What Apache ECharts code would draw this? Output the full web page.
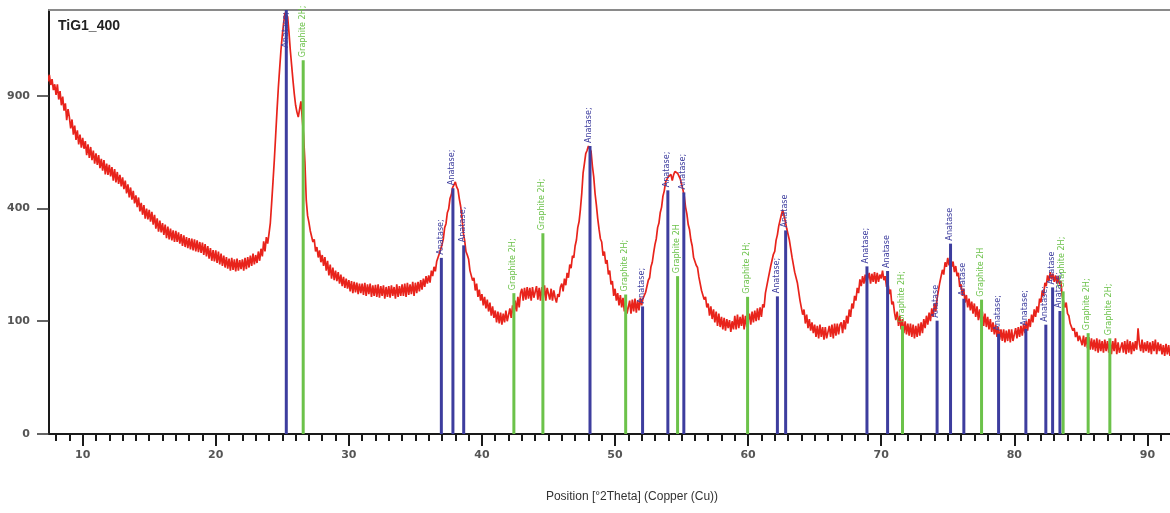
<!DOCTYPE html>
<html lang="en">
<head>
<meta charset="utf-8">
<title>TiG1_400</title>
<script src="https://cdn.jsdelivr.net/npm/echarts@6/dist/echarts.min.js"></script>
<style>
  html, body { margin: 0; padding: 0; background: #fff; }
  #chart { width: 1170px; height: 513px; }
</style>
</head>
<body>
<div id="chart"></div>
<script>
// scan: counts every 0.1 deg starting at 7.0 deg 2theta
var scanStart = 7.0;
var scanStep = 0.1;
var counts = [
  1030, 1060, 990, 1025, 978, 1015, 958, 990, 930, 962,
  905, 962, 880, 925, 850, 895, 822, 860, 775, 830,
  790, 735, 778, 705, 748, 680, 725, 660, 705, 645,
  690, 640, 675, 612, 660, 600, 648, 590, 632, 575,
  620, 570, 612, 556, 595, 545, 590, 530, 575, 528,
  570, 522, 560, 505, 552, 498, 540, 492, 528, 482,
  518, 472, 505, 455, 490, 440, 478, 432, 465, 418,
  448, 405, 440, 390, 420, 378, 412, 365, 400, 362,
  395, 355, 388, 345, 378, 332, 366, 322, 358, 320,
  350, 312, 345, 302, 338, 298, 332, 295, 326, 290,
  325, 290, 320, 285, 314, 278, 310, 275, 305, 272,
  302, 268, 300, 265, 298, 262, 295, 260, 290, 258,
  288, 252, 284, 248, 278, 242, 272, 236, 266, 234,
  265, 230, 262, 226, 256, 222, 250, 218, 246, 215,
  242, 210, 244, 212, 240, 208, 242, 210, 238, 214,
  240, 210, 244, 214, 246, 218, 250, 222, 256, 226,
  252, 230, 262, 236, 270, 248, 292, 262, 305, 285,
  315, 350, 420, 500, 590, 700, 820, 940, 1050, 1160,
  1250, 1330, 1395, 1400, 1370, 1270, 1160, 1070, 985, 910,
  850, 815, 790, 830, 870, 860, 700, 580, 430, 375,
  352, 325, 322, 290, 298, 262, 275, 245, 265, 232,
  252, 222, 246, 210, 236, 198, 226, 190, 218, 186,
  210, 184, 206, 178, 200, 172, 194, 168, 190, 166,
  186, 160, 184, 156, 182, 158, 180, 154, 178, 156,
  178, 152, 180, 150, 176, 154, 178, 148, 174, 150,
  175, 148, 176, 146, 172, 150, 174, 144, 170, 148,
  172, 146, 174, 150, 170, 144, 176, 148, 172, 150,
  176, 150, 178, 148, 180, 152, 176, 154, 182, 150,
  180, 156, 182, 160, 186, 164, 190, 170, 196, 178,
  198, 180, 210, 196, 220, 208, 234, 230, 256, 260,
  282, 300, 335, 348, 385, 398, 436, 450, 478, 488,
  500, 480, 470, 435, 408, 370, 318, 295, 262, 252,
  240, 210, 215, 185, 192, 162, 178, 148, 164, 140,
  154, 130, 148, 124, 142, 118, 136, 110, 128, 106,
  120, 98, 118, 96, 116, 94, 114, 98, 120, 100,
  102, 124, 106, 130, 112, 140, 118, 148, 126, 156,
  166, 140, 168, 142, 170, 144, 168, 140, 170, 146,
  146, 172, 142, 168, 140, 170, 144, 174, 140, 168,
  168, 142, 166, 140, 162, 146, 136, 154, 148, 170,
  178, 160, 190, 174, 204, 192, 226, 216, 250, 244,
  278, 296, 335, 355, 398, 455, 535, 575, 618, 632,
  652, 660, 628, 565, 520, 455, 412, 365, 330, 300,
  290, 250, 262, 228, 238, 200, 210, 176, 184, 150,
  166, 140, 156, 130, 152, 126, 146, 118, 140, 114,
  116, 140, 114, 142, 118, 144, 116, 140, 120, 146,
  130, 144, 146, 158, 160, 186, 192, 220, 232, 258,
  282, 300, 335, 350, 386, 405, 445, 465, 500, 504,
  520, 512, 530, 505, 528, 542, 548, 535, 530, 512,
  505, 470, 445, 405, 380, 345, 328, 296, 278, 246,
  242, 224, 218, 194, 190, 162, 164, 142, 148, 126,
  134, 110, 128, 104, 122, 98, 118, 92, 114, 90,
  108, 86, 106, 84, 104, 88, 102, 82, 100, 86,
  110, 86, 112, 88, 108, 92, 112, 86, 110, 90,
  92, 114, 94, 118, 98, 120, 100, 124, 102, 126,
  108, 132, 126, 156, 154, 188, 186, 222, 222, 254,
  262, 295, 312, 340, 345, 378, 395, 388, 355, 332,
  326, 296, 290, 246, 242, 206, 210, 180, 180, 140,
  140, 112, 122, 96, 112, 88, 104, 84, 98, 80,
  94, 74, 92, 72, 94, 74, 90, 70, 90, 72,
  72, 92, 74, 94, 72, 96, 76, 96, 78, 94,
  98, 80, 102, 86, 110, 96, 122, 108, 134, 124,
  150, 140, 168, 156, 188, 172, 196, 178, 200, 180,
  180, 204, 178, 202, 182, 206, 178, 204, 182, 200,
  190, 210, 186, 196, 170, 182, 154, 164, 132, 138,
  116, 102, 118, 92, 110, 86, 104, 80, 100, 78,
  96, 76, 96, 74, 94, 72, 92, 74, 96, 76,
  98, 80, 104, 88, 110, 94, 116, 100, 124, 108,
  134, 118, 144, 140, 180, 176, 212, 200, 232, 220,
  244, 224, 246, 220, 234, 206, 222, 196, 204, 170,
  176, 150, 166, 136, 152, 126, 144, 120, 138, 114,
  134, 108, 128, 102, 122, 98, 118, 92, 114, 90,
  108, 86, 104, 82, 98, 78, 94, 74, 90, 70,
  86, 68, 86, 66, 84, 68, 86, 66, 86, 68,
  70, 88, 72, 90, 74, 92, 76, 96, 80, 100,
  84, 104, 90, 112, 98, 122, 108, 128, 116, 144,
  136, 162, 150, 180, 172, 198, 184, 206, 188, 202,
  182, 198, 178, 196, 176, 184, 150, 154, 126, 136,
  114, 110, 96, 98, 84, 88, 74, 82, 68, 76,
  78, 62, 76, 60, 74, 58, 74, 56, 72, 56,
  70, 54, 72, 52, 70, 54, 68, 52, 70, 54,
  68, 52, 70, 50, 68, 54, 72, 50, 66, 52,
  50, 66, 52, 68, 50, 70, 52, 68, 50, 66,
  54, 68, 56, 88, 64, 54, 70, 52, 66, 54,
  68, 52, 66, 50, 68, 54, 70, 50, 66, 54,
  64, 50, 62, 48, 64, 50, 62, 48, 60, 52,
  55
];

// reference pattern sticks
var anatasePos = [25.3, 36.95, 37.82, 38.63, 48.12, 52.07, 53.97, 55.17, 62.2, 62.82,
  68.93, 70.48, 74.2, 75.21, 76.21, 78.82, 80.87, 82.37, 82.88, 83.43];
var anataseHeight = [1600, 244, 475, 280, 652, 128, 467, 459, 149, 326,
  221, 209, 101, 285, 144, 79, 87, 94, 169, 119];
var anataseLabels = ['Anatase;', 'Anatase;', 'Anatase;', 'Anatase;', 'Anatase;', 'Anatase;', 'Anatase;', 'Anatase;', 'Anatase;', 'Anatase',
  'Anatase;', 'Anatase', 'Anatase', 'Anatase', 'Anatase', 'Anatase;', 'Anatase;', 'Anatase;', 'Anatase', 'Anatase;'];

var graphitePos = [26.57, 42.4, 44.58, 50.8, 54.7, 59.96, 71.6, 77.54, 83.67, 85.55, 87.18];
var graphiteHeight = [1099, 156, 317, 153, 196, 148, 92, 142, 160, 80, 72];
var graphiteLabels = ['Graphite 2H;', 'Graphite 2H;', 'Graphite 2H;', 'Graphite 2H;', 'Graphite 2H', 'Graphite 2H;',
  'Graphite 2H;', 'Graphite 2H', 'Graphite 2H;', 'Graphite 2H;', 'Graphite 2H;'];

var xLabelValues = [10, 20, 30, 40, 50, 60, 70, 80, 90];
var xMinorTicks = [];
for (var d = 8; d <= 91; d++) xMinorTicks.push(d);
var yTickCounts = [0, 100, 400, 900];

var xMin = 7.47, xMax = 91.7;
var yMaxCounts = 1414;

// intensity axis is square-root scaled
var scan = counts.map(function (c, i) {
  return [+(scanStart + i * scanStep).toFixed(2), Math.sqrt(c)];
});

function stickSeries(name, pos, heights, labels, color) {
  return {
    name: name,
    type: 'custom',
    z: 5,
    data: pos.map(function (p, i) { return [p, Math.sqrt(heights[i])]; }),
    renderItem: function (params, api) {
      var base = api.coord([api.value(0), 0]);
      var top = api.coord([api.value(0), api.value(1)]);
      var plotTop = params.coordSys.y;
      var clipped = top[1] < plotTop;
      var yTop = clipped ? plotTop : top[1];
      return {
        type: 'group',
        children: [{
          type: 'line',
          shape: { x1: base[0], y1: base[1], x2: base[0], y2: yTop },
          style: { stroke: color, lineWidth: 3 }
        }, {
          type: 'text',
          x: base[0] - 1,
          y: clipped ? plotTop + 2 : Math.max(yTop - 3, plotTop + 46),
          rotation: Math.PI / 2,
          style: {
            text: labels[params.dataIndex],
            fill: color,
            font: '9px "Liberation Sans Narrow", "DejaVu Sans Condensed", "Liberation Sans", sans-serif',
            align: clipped ? 'right' : 'left',
            verticalAlign: 'middle'
          }
        }]
      };
    }
  };
}

var chart = echarts.init(document.getElementById('chart'));

var option = {
  animation: false,
  backgroundColor: '#fff',
  grid: { left: 49, right: 0, top: 10, bottom: 79, containLabel: false },
  xAxis: [{
    type: 'value',
    position: 'bottom',
    min: xMin,
    max: xMax,
    splitLine: { show: false },
    axisLine: { lineStyle: { color: '#1a1a1a', width: 2 } },
    axisTick: { customValues: xMinorTicks, length: 7, lineStyle: { color: '#1a1a1a', width: 2 } },
    axisLabel: {
      customValues: xLabelValues,
      margin: 16,
      color: '#555',
      fontSize: 11,
      fontWeight: 'bold',
      fontFamily: 'DejaVu Sans'
    }
  }, {
    type: 'value',
    position: 'bottom',
    min: xMin,
    max: xMax,
    splitLine: { show: false },
    axisLine: { show: false },
    axisTick: { customValues: xLabelValues, length: 12, lineStyle: { color: '#1a1a1a', width: 2 } },
    axisLabel: { show: false }
  }, {
    type: 'value',
    position: 'top',
    min: xMin,
    max: xMax,
    splitLine: { show: false },
    axisLine: { lineStyle: { color: '#8a8a8a', width: 2 } },
    axisTick: { show: false },
    axisLabel: { show: false }
  }],
  yAxis: {
    type: 'value',
    min: 0,
    max: Math.sqrt(yMaxCounts),
    splitLine: { show: false },
    axisLine: { show: true, lineStyle: { color: '#1a1a1a', width: 2 } },
    axisTick: {
      show: true,
      customValues: yTickCounts.map(Math.sqrt),
      length: 12,
      lineStyle: { color: '#333', width: 1.5 }
    },
    axisLabel: {
      customValues: yTickCounts.map(Math.sqrt),
      margin: 19,
      color: '#555',
      fontSize: 11,
      fontWeight: 'bold',
      fontFamily: 'DejaVu Sans',
      formatter: function (v) { return String(Math.round(v * v)); }
    }
  },
  graphic: [{
    type: 'text',
    left: 58,
    top: 19,
    style: { text: 'TiG1_400', font: 'bold 14px "Liberation Sans", Arial, sans-serif', fill: '#222' }
  }, {
    type: 'text',
    x: 632,
    y: 497,
    style: {
      text: 'Position [°2Theta] (Copper (Cu))',
      font: '12px "Liberation Sans", Arial, sans-serif',
      fill: '#333',
      align: 'center',
      verticalAlign: 'middle'
    }
  }],
  series: [{
    name: 'TiG1_400',
    type: 'line',
    data: scan,
    showSymbol: false,
    clip: true,
    z: 3,
    lineStyle: { color: '#e8231b', width: 1.7 }
  },
    stickSeries('Anatase', anatasePos, anataseHeight, anataseLabels, '#3d3d9e'),
    stickSeries('Graphite 2H', graphitePos, graphiteHeight, graphiteLabels, '#6cc24a')
  ]
};

chart.setOption(option);
</script>
</body>
</html>
